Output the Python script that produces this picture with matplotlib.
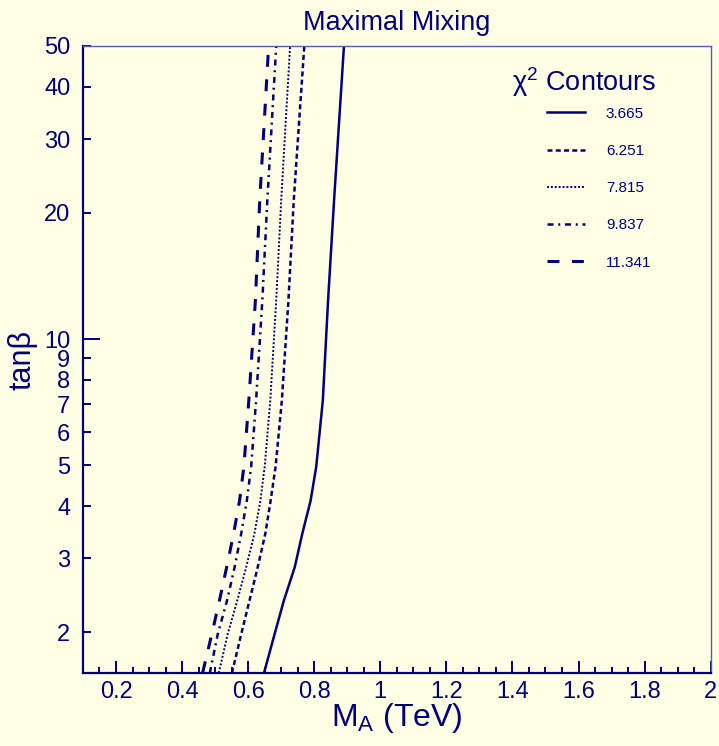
import matplotlib
matplotlib.use("Agg")
import matplotlib.pyplot as plt
from matplotlib.ticker import FixedLocator, FixedFormatter, MultipleLocator

plt.rcParams["font.family"] = ["Liberation Sans", "DejaVu Sans"]
plt.rcParams["mathtext.fontset"] = "custom"
plt.rcParams["mathtext.rm"] = "Liberation Sans"
plt.rcParams["mathtext.it"] = "Liberation Sans:italic"

navy = "#000080"
bg = "#ffffe6"

# tan(beta) nodes along each contour
tanb = [1.6, 1.98, 2.38, 2.86, 3.44, 4.12, 4.96, 7.14, 12.4, 21.4, 50]

# M_A (TeV) of each chi^2 contour at the tanb nodes
m_3665 = [0.648, 0.680, 0.708, 0.741, 0.764, 0.789, 0.806, 0.826, 0.842, 0.860, 0.890]
m_6251 = [0.551, 0.579, 0.604, 0.629, 0.652, 0.668, 0.683, 0.702, 0.722, 0.738, 0.770]
m_7815 = [0.511, 0.538, 0.567, 0.594, 0.619, 0.637, 0.650, 0.667, 0.685, 0.700, 0.727]
m_9837 = [0.484, 0.508, 0.536, 0.559, 0.579, 0.596, 0.609, 0.624, 0.643, 0.658, 0.685]
m_11341 = [0.462, 0.490, 0.513, 0.535, 0.556, 0.574, 0.587, 0.602, 0.622, 0.635, 0.662]

labels = ["3.665", "6.251", "7.815", "9.837", "11.341"]

x_ticks = [0.2, 0.4, 0.6, 0.8, 1.0, 1.2, 1.4, 1.6, 1.8, 2.0]
x_ticklabels = ["0.2", "0.4", "0.6", "0.8", "1", "1.2", "1.4", "1.6", "1.8", "2"]
y_ticks = [2, 3, 4, 5, 6, 7, 8, 9, 20, 30, 40, 50]
y_ticklabels = ["2", "3", "4", "5", "6", "7", "8", "9", "20", "30", "40", "50"]

fig = plt.figure(figsize=(7.19, 7.46), dpi=100, facecolor=bg)
ax = fig.add_axes([0.1154, 0.0979, 0.873, 0.8405], facecolor=bg)

styles = [
    dict(linestyle="-", lw=1.8),
    dict(linestyle=(0, (2.0, 1.3)), lw=1.8),
    dict(linestyle=(0, (1.0, 1.0)), lw=1.4),
    dict(linestyle=(0, (2.4, 1.9, 0.8, 1.9)), lw=1.8),
    dict(linestyle=(0, (3.9, 4.1)), lw=2.2),
]
series = [m_3665, m_6251, m_7815, m_9837, m_11341]

handles = []
for m, st, lab in zip(series, styles, labels):
    ln, = ax.plot(m, tanb, color=navy, label=lab, **st)
    handles.append(ln)

ax.set_yscale("log")
ax.set_xlim(0.1, 2.0)
ax.set_ylim(1.6, 50)

# x ticks
ax.xaxis.set_minor_locator(MultipleLocator(0.05))
ax.set_xticks(x_ticks)
ax.set_xticklabels(x_ticklabels)
ax.tick_params(axis="x", which="major", direction="in", length=8.6, width=1.4,
               color=navy, labelcolor=navy, labelsize=17, pad=5.5, top=False)
ax.tick_params(axis="x", which="minor", direction="in", length=4.3, width=1.4,
               color=navy, top=False)

# y ticks: 10 is long, others short
ax.yaxis.set_major_locator(FixedLocator([10]))
ax.yaxis.set_major_formatter(FixedFormatter(["10"]))
ax.yaxis.set_minor_locator(FixedLocator(y_ticks))
ax.yaxis.set_minor_formatter(FixedFormatter(y_ticklabels))
ax.tick_params(axis="y", which="major", direction="in", length=12.2, width=1.4,
               color=navy, labelcolor=navy, labelsize=17, pad=9, right=False)
ax.tick_params(axis="y", which="minor", direction="in", length=5.8, width=1.4,
               color=navy, labelcolor=navy, labelsize=17, pad=9, right=False)

for side in ["left", "bottom"]:
    ax.spines[side].set_color(navy)
    ax.spines[side].set_linewidth(1.6)
for side in ["top", "right"]:
    ax.spines[side].set_color("#5a5ab4")
    ax.spines[side].set_linewidth(1.0)

ax.set_title("Maximal Mixing", color=navy, fontsize=19.5, pad=0, y=1.026)
ax.set_xlabel(r"M$_\mathregular{A}$ (TeV)", color=navy, fontsize=23)
ax.xaxis.set_label_coords(0.5, -0.045)
ax.set_ylabel("tan\u03b2", color=navy, fontsize=22)
ax.yaxis.set_label_coords(-0.073, 0.5)

leg = ax.legend(handles=handles, loc="upper left", bbox_to_anchor=(0.717, 0.925),
                frameon=False, fontsize=11, labelcolor=navy,
                handlelength=2.5, handletextpad=1.37, labelspacing=1.52)
ax.text(0.799, 0.9426, "\u03c7$^\\mathregular{2}$ Contours", transform=ax.transAxes,
        ha="center", va="center", color=navy, fontsize=19.5)

fig.savefig("out.png", dpi=100, facecolor=bg)
